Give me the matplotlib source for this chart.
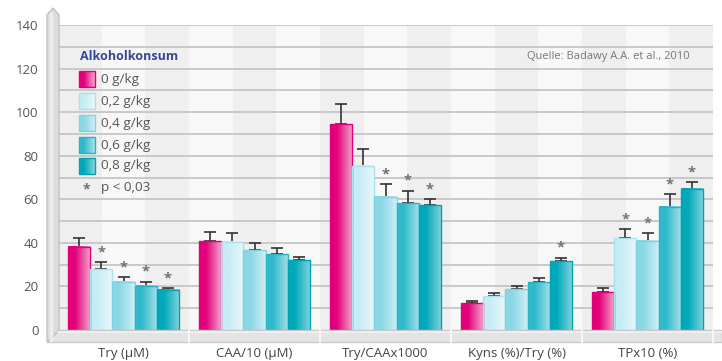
import numpy as np
import matplotlib
matplotlib.use("Agg")
import matplotlib.pyplot as plt
from matplotlib.colors import LinearSegmentedColormap
from matplotlib.patches import Polygon

plt.rcParams['font.family'] = ['Open Sans', 'DejaVu Sans']

# ---- data -------------------------------------------------------------
categories = ["Try (µM)", "CAA/10 (µM)", "Try/CAAx1000", "Kyns (%)/Try (%)", "TPx10 (%)"]
dose_labels = ["0 g/kg", "0,2 g/kg", "0,4 g/kg", "0,6 g/kg", "0,8 g/kg"]

means = {
    "0 g/kg":   [38.2, 40.7, 94.4, 12.2, 17.4],
    "0,2 g/kg": [28.0, 40.4, 75.3, 15.6, 42.1],
    "0,4 g/kg": [22.2, 36.6, 61.2, 18.8, 41.0],
    "0,6 g/kg": [20.2, 34.7, 58.1, 21.9, 56.6],
    "0,8 g/kg": [18.4, 32.0, 57.2, 31.5, 64.8],
}
errors = {
    "0 g/kg":   [3.9, 4.1, 9.2, 0.9, 1.7],
    "0,2 g/kg": [3.0, 4.0, 7.6, 1.4, 4.1],
    "0,4 g/kg": [2.0, 3.2, 5.7, 1.5, 3.4],
    "0,6 g/kg": [2.0, 3.1, 5.8, 2.1, 5.8],
    "0,8 g/kg": [0.7, 1.6, 2.8, 1.7, 3.0],
}
# significance flags (p < 0,03)
significant = {
    "0 g/kg":   [0, 0, 0, 0, 0],
    "0,2 g/kg": [1, 0, 0, 0, 1],
    "0,4 g/kg": [1, 0, 1, 0, 1],
    "0,6 g/kg": [1, 0, 1, 0, 1],
    "0,8 g/kg": [1, 0, 1, 1, 1],
}

legend_title = "Alkoholkonsum"
sig_label = "p < 0,03"
source_text = "Quelle: Badawy A.A. et al., 2010"
y_ticks = [0, 20, 40, 60, 80, 100, 120, 140]

# ---- style ------------------------------------------------------------
# (left, right, edge) colour of each gradient bar
bar_colors = {
    "0 g/kg":   ("#E2007A", "#F3A6CC", "#E0007A"),
    "0,2 g/kg": ("#C6ECF5", "#EAF8FB", "#A9E2EE"),
    "0,4 g/kg": ("#8AD7E5", "#CDEFF5", "#7FD2E1"),
    "0,6 g/kg": ("#2FBACB", "#A9E1EA", "#2CB3C3"),
    "0,8 g/kg": ("#00A9BA", "#86D3DE", "#00A2B3"),
}
text_grey = "#555555"
W, H = 722, 361

fig = plt.figure(figsize=(W / 100, H / 100), dpi=100)
fig.patch.set_facecolor("white")

def fx(px):
    return px / W

def fy(py):
    return 1 - py / H

ax = fig.add_axes([fx(58), fy(330), fx(713) - fx(58), fy(25) - fy(330)])
ax.set_xlim(-0.5, len(categories) - 0.5)
ax.set_ylim(0, 140)

# background bands (three per group)
n_bands = len(categories) * 3
for k in range(n_bands):
    x0 = -0.5 + k / 3
    ax.axvspan(x0, x0 + 1 / 3, color="#EFEFEF" if k % 2 == 0 else "#F8F8F8",
               lw=0, zorder=0)

# horizontal gridlines every 10
for g in range(10, 141, 10):
    ax.axhline(g, color="#C6C6C6", lw=1.3, zorder=1)


def gradient_cmap(left, right):
    return LinearSegmentedColormap.from_list(
        "g", [(0, left), (0.3, left), (1, right)])


grad = np.linspace(0, 1, 64).reshape(1, -1)
n = len(dose_labels)
bw = 0.168
x = np.arange(len(categories))
for i, d in enumerate(dose_labels):
    xs = x + (i - (n - 1) / 2) * bw
    left, right, edge = bar_colors[d]
    bars = ax.bar(xs, means[d], width=bw, facecolor="none", edgecolor=edge,
                  lw=1.0, zorder=4)
    cmap = gradient_cmap(left, right)
    for b in bars:
        bx, by = b.get_x(), b.get_y()
        ax.imshow(grad, cmap=cmap, aspect="auto", zorder=3,
                  extent=[bx, bx + b.get_width(), by, by + b.get_height()],
                  interpolation="bilinear")
    ax.errorbar(xs, means[d], yerr=[np.zeros(len(xs)), errors[d]], fmt="none",
                ecolor="#333333", elinewidth=1.2, capsize=4, capthick=1.2,
                zorder=2.5)
    for xi, m, e, s in zip(xs, means[d], errors[d], significant[d]):
        if s:
            ax.text(xi, m + e + 1.4, "*", ha="center", va="bottom",
                    color="#737373", fontsize=10.5, fontweight="bold", zorder=5)

ax.set_xlim(-0.5, len(categories) - 0.5)
ax.set_ylim(0, 140)

# axes text
ax.set_xticks(x)
ax.set_xticklabels(categories, fontsize=9.5, color="#444444")
ax.set_yticks(y_ticks)
ax.set_yticklabels([str(t) for t in y_ticks], fontsize=9.5, color=text_grey)
ax.tick_params(axis="x", length=0, pad=12)
ax.tick_params(axis="y", length=0, pad=14)
for sp in ax.spines.values():
    sp.set_visible(False)

# legend drawn in axes fraction coordinates
def ax_x(px):
    return (px - 58) / 655

def ax_y(py):
    return (330 - py) / 305

ax.text(ax_x(80), ax_y(56), legend_title, transform=ax.transAxes,
        fontsize=9, fontweight="bold", color="#33479A", va="center", ha="left",
        zorder=6)
row_y = [79, 101, 123, 145, 166]
for d, py in zip(dose_labels, row_y):
    left, right, edge = bar_colors[d]
    im = ax.imshow(grad, cmap=gradient_cmap(left, right), aspect="auto",
                   extent=[ax_x(79), ax_x(95), ax_y(py + 8), ax_y(py - 8)],
                   transform=ax.transAxes, zorder=6, interpolation="bilinear")
    ax.add_patch(plt.Rectangle((ax_x(79), ax_y(py + 8)), ax_x(95) - ax_x(79),
                               ax_y(py - 8) - ax_y(py + 8), transform=ax.transAxes,
                               fill=False, edgecolor=edge, lw=1.0, zorder=7))
    ax.text(ax_x(101), ax_y(py), d, transform=ax.transAxes, fontsize=9.7,
            color=text_grey, va="center", ha="left", zorder=6)
ax.text(ax_x(86), ax_y(189), "*", transform=ax.transAxes, fontsize=10,
        fontweight="bold", color="#707070", va="center", ha="center", zorder=6)
ax.text(ax_x(101), ax_y(187), sig_label, transform=ax.transAxes, fontsize=9.7,
        color=text_grey, va="center", ha="left", zorder=6)
ax.text(ax_x(690), ax_y(57), source_text, transform=ax.transAxes, fontsize=8,
        color="#777777", va="center", ha="right", zorder=6)

ax.set_xlim(-0.5, len(categories) - 0.5)
ax.set_ylim(0, 140)

# 3D floor below the bars
floor = Polygon([(fx(58), fy(330)), (fx(722), fy(330)), (fx(722), fy(342)),
                 (fx(47), fy(342))], closed=True, transform=fig.transFigure,
                facecolor="#E4E4E4", edgecolor="#C8C8C8", lw=1.0, zorder=0)
fig.patches.append(floor)
fig.lines.append(plt.Line2D([fx(58), fx(722)], [fy(331.5), fy(331.5)],
                            transform=fig.transFigure, color="#F2F2F2", lw=1.2))
for k in range(1, len(categories) + 1):
    sx = 58 + 131 * k
    fig.lines.append(plt.Line2D([fx(sx), fx(sx)], [fy(331), fy(342)],
                                transform=fig.transFigure, color="#F6F6F6", lw=1.5))

# 3D wall on the left
wall = Polygon([(fx(47), fy(342)), (fx(47), fy(15)), (fx(53), fy(8)),
                (fx(59), fy(15)), (fx(59), fy(330)), (fx(58), fy(331))],
               closed=True, transform=fig.transFigure, facecolor="#DDDDDD",
               edgecolor="#C2C2C2", lw=1.0, zorder=0)
fig.patches.append(wall)
fig.lines.append(plt.Line2D([fx(51), fx(51)], [fy(14), fy(340)],
                            transform=fig.transFigure, color="#EDEDED", lw=2.5))

fig.savefig("out.png", dpi=100)
